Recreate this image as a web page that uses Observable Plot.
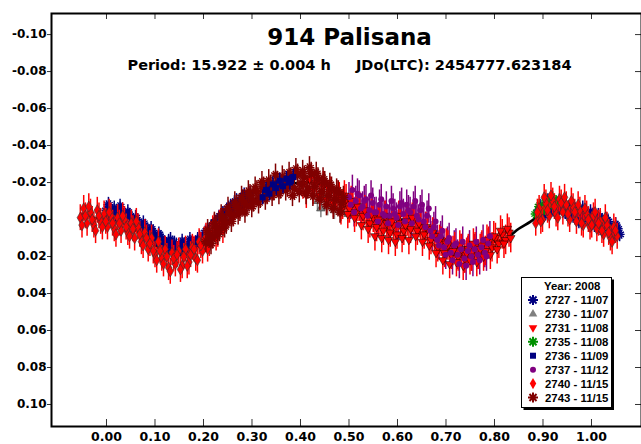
<!DOCTYPE html>
<html><head><meta charset="utf-8">
<script src="https://cdn.jsdelivr.net/npm/d3@7"></script>
<script src="https://cdn.jsdelivr.net/npm/@observablehq/plot@0.6"></script>
<style>
body{margin:0;background:#fff;}
#wrap{width:641px;height:444px;}
</style></head>
<body><div id="wrap"></div>
<script>
// ---------- texts ----------
const titleText = "914 Palisana";
const subtitleText = "Period: 15.922 \u00b1 0.004 h\u00a0\u00a0\u00a0\u00a0\u00a0JDo(LTC): 2454777.623184";
const legendTitle = "Year: 2008";
const seriesLabels = ["2727 - 11/07","2730 - 11/07","2731 - 11/08","2735 - 11/08","2736 - 11/09","2737 - 11/12","2740 - 11/15","2743 - 11/15"];

// ---------- ticks ----------
const xTicks = [0.00,0.10,0.20,0.30,0.40,0.50,0.60,0.70,0.80,0.90,1.00];
const xTickLabels = ["0.00","0.10","0.20","0.30","0.40","0.50","0.60","0.70","0.80","0.90","1.00"];
const yTicks = [-0.10,-0.08,-0.06,-0.04,-0.02,0.00,0.02,0.04,0.06,0.08,0.10];
const yTickLabels = ["-0.10","-0.08","-0.06","-0.04","-0.02","0.00","0.02","0.04","0.06","0.08","0.10"];

// ---------- data (phase, reduced magnitude) ----------
const p2727 = [0.000,0.008,0.016,0.024,0.032,0.040,0.048,0.056,0.064,0.072,0.080,0.088,0.096,0.104,0.112,0.120,0.128,0.136,0.144,0.152,0.160,0.168,0.176,0.184,0.192,0.200,0.208,0.216,0.224,0.232,0.240,0.248,0.256,0.264,0.272,0.280,0.288,0.296,
  0.890,0.898,0.906,0.914,0.922,0.930,0.938,0.946,0.954,0.962,0.970,0.978,0.986,0.994,1.002,1.010,1.018,1.026,1.034,1.042,1.050,1.058,
  0.004,0.012,0.020,0.028,0.036,0.044,0.052,0.060,0.068,0.076,0.084,0.092,0.100,0.108,0.116,0.124,0.132,0.140,0.148,0.156,0.164,0.172,0.180,0.188,0.196,0.204,0.212,0.220,0.228,0.236,0.244,0.252,0.260,0.268,0.276,0.284,0.292,
  0.894,0.902,0.910,0.918,0.926,0.934,0.942,0.950,0.958,0.966,0.974,0.982,0.990,0.998,1.006,1.014,1.022,1.030,1.038,1.046,1.054];
const m2727 = [-0.005,-0.002,-0.006,-0.003,-0.004,-0.001,-0.002,0.002,0.001,0.005,0.004,0.008,0.007,0.011,0.010,0.013,0.012,0.015,0.014,0.016,0.014,0.015,0.013,0.013,0.010,0.009,0.006,0.004,0.002,-0.001,-0.003,-0.005,-0.007,-0.009,-0.008,-0.012,-0.011,-0.014,
  -0.004,-0.001,-0.007,-0.004,-0.008,-0.005,-0.008,-0.004,-0.006,-0.002,-0.004,0.000,-0.003,0.001,-0.002,0.002,-0.001,0.004,0.001,0.006,0.003,0.008,
  -0.008,-0.004,-0.001,-0.007,-0.002,-0.004,0.001,-0.001,0.004,0.002,0.007,0.005,0.010,0.008,0.012,0.016,0.011,0.013,0.017,0.012,0.017,0.011,0.015,0.011,0.012,0.007,0.009,0.003,0.005,-0.002,0.001,-0.006,-0.004,-0.010,-0.006,-0.013,-0.009,
  -0.007,-0.003,-0.010,-0.006,-0.004,-0.010,-0.006,-0.003,-0.008,-0.005,0.001,-0.006,-0.001,-0.004,0.003,-0.002,0.006,0.000,0.004,0.009,0.005];

const p2730 = [0.435,0.442,0.449,0.456,0.463,0.470,0.477,0.484,0.491,0.498];
const m2730 = [-0.010,-0.006,-0.011,-0.007,-0.010,-0.005,-0.008,-0.004,-0.007,-0.003];

const p2731 = [0.480,0.487,0.494,0.501,0.508,0.515,0.522,0.529,0.536,0.543,0.550,0.557,0.564,0.571,0.578,0.585,0.592,0.599,0.606,0.613,0.620,0.627,0.634,0.641,0.648,0.655,0.662,0.669,0.676,0.683,0.690,0.697,0.704,0.711,0.718,0.725,0.732,0.739,0.746,0.753,0.760,0.767,0.774,0.781,0.788,0.795,0.802,0.809,0.816,0.823,0.830,
  0.4835,0.4905,0.4975,0.5045,0.5115,0.5185,0.5255,0.5325,0.5395,0.5465,0.5535,0.5605,0.5675,0.5745,0.5815,0.5885,0.5955,0.6025,0.6095,0.6165,0.6235,0.6305,0.6375,0.6445,0.6515,0.6585,0.6655,0.6725,0.6795,0.6865,0.6935,0.7005,0.7075,0.7145,0.7215,0.7285,0.7355,0.7425,0.7495,0.7565,0.7635,0.7705,0.7775,0.7845,0.7915,0.7985,0.8055,0.8125,0.8195,0.8265,0.8335,
  0.405,0.412,0.419,0.426,0.433,0.440,0.447,0.454,0.461,0.468,0.475];
const m2731 = [-0.012,-0.008,-0.011,-0.006,-0.009,-0.004,-0.007,-0.002,-0.004,0.002,-0.001,0.004,0.001,0.006,0.002,0.007,0.003,0.008,0.002,0.006,0.001,0.005,0.000,0.006,0.003,0.008,0.005,0.011,0.009,0.015,0.012,0.018,0.014,0.019,0.015,0.020,0.016,0.021,0.016,0.020,0.015,0.019,0.014,0.017,0.012,0.015,0.010,0.013,0.008,0.011,0.007,
  -0.005,-0.013,-0.003,-0.010,-0.001,-0.007,0.003,-0.005,0.005,-0.003,0.009,0.000,0.010,-0.002,0.011,0.001,0.012,-0.002,0.010,0.003,0.011,-0.001,0.009,0.002,0.012,0.004,0.014,0.007,0.018,0.011,0.022,0.013,0.024,0.017,0.023,0.014,0.025,0.018,0.022,0.013,0.023,0.016,0.020,0.011,0.019,0.009,0.016,0.006,0.013,0.005,0.010,
  -0.019,-0.014,-0.022,-0.016,-0.020,-0.013,-0.018,-0.011,-0.015,-0.009,-0.013];

const p2735 = [0.885,0.892,0.899,0.906,0.913,0.920,0.927];
const m2735 = [-0.003,-0.007,-0.005,-0.010,-0.008,-0.011,-0.009];

const p2736 = [0.322,0.329,0.336,0.343,0.350,0.357,0.364,0.371,0.378,0.385];
const m2736 = [-0.012,-0.016,-0.014,-0.019,-0.017,-0.021,-0.018,-0.022,-0.020,-0.023];

const p2737 = [0.500,0.507,0.514,0.521,0.528,0.535,0.542,0.549,0.556,0.563,0.570,0.577,0.584,0.591,0.598,0.605,0.612,0.619,0.626,0.633,0.640,0.647,0.654,0.661,0.668,0.675,0.682,0.689,0.696,0.703,0.710,0.717,0.724,0.731,0.738,0.745,0.752,0.759,0.766,0.773,0.780,0.787,
  0.5035,0.5105,0.5175,0.5245,0.5315,0.5385,0.5455,0.5525,0.5595,0.5665,0.5735,0.5805,0.5875,0.5945,0.6015,0.6085,0.6155,0.6225,0.6295,0.6365,0.6435,0.6505,0.6575,0.6645,0.6715,0.6785,0.6855,0.6925,0.6995,0.7065,0.7135,0.7205,0.7275,0.7345,0.7415,0.7485,0.7555,0.7625,0.7695,0.7765,0.7835,0.7905];
const m2737 = [-0.012,-0.016,-0.010,-0.013,-0.007,-0.011,-0.005,-0.009,-0.004,-0.008,-0.003,-0.007,-0.002,-0.006,-0.001,-0.007,-0.003,-0.008,-0.004,-0.007,-0.002,-0.005,0.001,-0.002,0.006,0.004,0.011,0.009,0.015,0.012,0.018,0.014,0.019,0.016,0.021,0.017,0.020,0.016,0.019,0.015,0.018,0.013,
  -0.008,-0.004,-0.014,-0.006,-0.010,-0.002,-0.013,-0.004,0.001,-0.011,-0.002,0.002,-0.010,-0.003,0.003,-0.009,0.001,-0.005,0.002,-0.010,0.000,-0.008,0.004,-0.006,0.009,0.001,0.014,0.006,0.019,0.010,0.022,0.013,0.024,0.012,0.025,0.014,0.023,0.012,0.022,0.011,0.020,0.009];

const p2740 = [-0.054,-0.047,-0.040,-0.033,-0.026,-0.019,-0.012,-0.005,0.002,0.009,0.016,0.023,0.030,0.037,0.044,0.051,0.058,0.065,0.072,0.079,0.086,0.093,0.100,0.107,0.114,0.121,0.128,0.135,0.142,0.149,0.156,0.163,0.170,0.177,0.184,0.191,0.198,0.205,0.212,0.219,0.226,0.233,0.240,
  0.885,0.892,0.899,0.906,0.913,0.920,0.927,0.934,0.941,0.948,0.955,0.962,0.969,0.976,0.983,0.990,0.997,1.004,1.011,1.018,1.025,1.032,1.039,1.046,1.053,
  -0.0505,-0.0435,-0.0365,-0.0295,-0.0225,-0.0155,-0.0085,-0.0015,0.0055,0.0125,0.0195,0.0265,0.0335,0.0405,0.0475,0.0545,0.0615,0.0685,0.0755,0.0825,0.0895,0.0965,0.1035,0.1105,0.1175,0.1245,0.1315,0.1385,0.1455,0.1525,0.1595,0.1665,0.1735,0.1805,0.1875,0.1945,0.2015,0.2085,0.2155,0.2225,0.2295,0.2365,
  0.8885,0.8955,0.9025,0.9095,0.9165,0.9235,0.9305,0.9375,0.9445,0.9515,0.9585,0.9655,0.9725,0.9795,0.9865,0.9935,1.0005,1.0075,1.0145,1.0215,1.0285,1.0355,1.0425,1.0495];
const m2740 = [-0.001,-0.006,0.002,-0.004,0.003,-0.005,0.001,-0.003,0.004,-0.002,0.005,-0.001,0.006,0.000,0.007,0.002,0.010,0.004,0.012,0.007,0.016,0.010,0.019,0.012,0.021,0.016,0.026,0.018,0.024,0.017,0.025,0.016,0.023,0.015,0.021,0.012,0.017,0.009,0.013,0.005,0.010,0.002,0.006,
  0.002,-0.006,0.000,-0.009,-0.002,-0.010,-0.003,-0.011,-0.004,-0.008,0.000,-0.007,0.001,-0.005,0.003,-0.003,0.004,-0.002,0.005,0.001,0.008,0.003,0.010,0.004,0.009,
  0.003,-0.002,-0.007,0.000,0.006,-0.002,0.004,0.001,-0.004,0.002,0.008,0.002,-0.002,0.004,0.009,0.005,0.001,0.008,0.014,0.010,0.013,0.017,0.022,0.017,0.024,0.020,0.028,0.021,0.019,0.027,0.020,0.025,0.019,0.016,0.022,0.014,0.011,0.016,0.008,0.004,0.008,0.001,
  -0.004,0.001,-0.012,-0.005,-0.013,-0.007,-0.001,-0.009,-0.012,-0.003,-0.010,-0.004,-0.008,0.002,-0.006,0.000,0.003,-0.004,0.002,0.006,-0.001,0.007,0.012,0.006];

const p2743 = [0.205,0.212,0.219,0.226,0.233,0.240,0.247,0.254,0.261,0.268,0.275,0.282,0.289,0.296,0.303,0.310,0.317,0.324,0.331,0.338,0.345,0.352,0.359,0.366,0.373,0.380,0.387,0.394,0.401,0.408,0.415,0.422,0.429,0.436,0.443,0.450,0.457,0.464,0.471,0.478,0.485,
  0.2085,0.2155,0.2225,0.2295,0.2365,0.2435,0.2505,0.2575,0.2645,0.2715,0.2785,0.2855,0.2925,0.2995,0.3065,0.3135,0.3205,0.3275,0.3345,0.3415,0.3485,0.3555,0.3625,0.3695,0.3765,0.3835,0.3905,0.3975,0.4045,0.4115,0.4185,0.4255,0.4325,0.4395,0.4465,0.4535,0.4605,0.4675,0.4745,0.4815,0.4885];
const m2743 = [0.012,0.008,0.010,0.004,0.006,0.000,0.002,-0.003,-0.002,-0.007,-0.005,-0.010,-0.008,-0.013,-0.010,-0.015,-0.012,-0.017,-0.014,-0.018,-0.016,-0.020,-0.017,-0.021,-0.018,-0.022,-0.017,-0.024,-0.019,-0.023,-0.017,-0.025,-0.018,-0.022,-0.015,-0.020,-0.013,-0.017,-0.011,-0.015,-0.009,
  0.006,0.013,0.002,0.008,-0.002,0.004,-0.006,0.001,-0.009,-0.003,-0.012,-0.004,-0.015,-0.007,-0.017,-0.009,-0.020,-0.011,-0.021,-0.013,-0.024,-0.014,-0.023,-0.016,-0.025,-0.013,-0.027,-0.015,-0.026,-0.014,-0.028,-0.013,-0.025,-0.011,-0.022,-0.008,-0.019,-0.006,-0.016,-0.004,-0.012];

// error bar half-lengths per series (legend order)
const seriesErrors = [0.004,0.005,0.008,0.004,0.004,0.008,0.007,0.006];

// Fourier fit curve
const fitPhase = [-0.050,-0.025,0.000,0.025,0.050,0.075,0.100,0.125,0.150,0.175,0.200,0.225,0.250,0.275,0.300,0.325,0.350,0.375,0.400,0.425,0.450,0.475,0.500,0.525,0.550,0.575,0.600,0.625,0.650,0.675,0.700,0.725,0.750,0.775,0.800,0.825,0.850,0.875,0.900,0.925,0.950,0.975,1.000,1.025,1.050];
const fitMag = [-0.003,-0.001,0.000,0.001,0.004,0.009,0.014,0.018,0.019,0.017,0.013,0.007,0.001,-0.005,-0.010,-0.014,-0.017,-0.019,-0.020,-0.020,-0.018,-0.014,-0.010,-0.006,-0.003,-0.001,0.000,0.000,0.002,0.006,0.011,0.015,0.016,0.015,0.012,0.010,0.005,0.001,-0.004,-0.006,-0.005,-0.002,0.000,0.001,0.004];

// ---------- build ----------
const phases = [p2727,p2730,p2731,p2735,p2736,p2737,p2740,p2743];
const mags = [m2727,m2730,m2731,m2735,m2736,m2737,m2740,m2743];
const series = seriesLabels.map((label, i) => d3.zip(phases[i], mags[i]).map(([phase, mag]) => ({label, phase, mag, err: seriesErrors[i]})));
const fit = d3.zip(fitPhase, fitMag).map(([phase, mag]) => ({phase, mag}));

const makeBurst = n => ({draw(ctx, size) {
  const r = Math.sqrt(size / Math.PI);
  for (let k = 0; k < n; k++) {
    const a = k * Math.PI / n, dx = r * Math.cos(a), dy = r * Math.sin(a);
    ctx.moveTo(-dx, -dy); ctx.lineTo(dx, dy);
  }
}});
const burst = makeBurst(6);
const burstLegend = makeBurst(4);

const styles = [
  {symbol: burst, r: 5, fill: "none", stroke: "#000080", strokeWidth: 1.4, bar: "#000080"},
  {symbol: "triangle", r: 3.2, fill: "#808080", stroke: "#333", strokeWidth: 0.6, bar: "#808080"},
  {symbol: "triangle", rotate: 180, r: 3.2, fill: "#ff0000", stroke: "#000", strokeWidth: 0.5, bar: "#ff0000"},
  {symbol: burst, r: 5, fill: "none", stroke: "#009000", strokeWidth: 1.4, bar: "#009000"},
  {symbol: "square", r: 3.4, fill: "#000080", stroke: "none", strokeWidth: 0, bar: "#000080"},
  {symbol: "circle", r: 3, fill: "#800080", stroke: "none", strokeWidth: 0, bar: "#800080"},
  {symbol: "diamond", r: 3.4, fill: "#ff0000", stroke: "#333", strokeWidth: 0.6, bar: "#ff0000"},
  {symbol: burst, r: 5, fill: "none", stroke: "#800000", strokeWidth: 1.4, bar: "#800000"}
];

const xLab = d => xTickLabels[xTicks.findIndex(t => Math.abs(t - d) < 1e-9)];
const yLab = d => yTickLabels[yTicks.findIndex(t => Math.abs(t - d) < 1e-9)];

const bars = i => Plot.ruleX(series[i], {x: "phase", y1: d => d.mag - d.err, y2: d => d.mag + d.err, stroke: styles[i].bar, strokeWidth: 1.5});
const dots = i => {
  const s = styles[i];
  const o = {x: "phase", y: "mag", symbol: s.symbol, r: s.r, fill: s.fill, stroke: s.stroke, strokeWidth: s.strokeWidth};
  if (s.rotate) o.rotate = s.rotate;
  return Plot.dot(series[i], o);
};

const marks = [
  Plot.line(fit, {x: "phase", y: "mag", curve: "catmull-rom", stroke: "black", strokeWidth: 2.6}),
  bars(0), dots(0),
  bars(1), dots(1),
  bars(5), bars(2), dots(2), dots(5),
  bars(3), dots(3),
  bars(6), dots(6),
  bars(7), dots(7),
  bars(4), dots(4),
  Plot.tickX(xTicks, {x: d => d, insetTop: 406, stroke: "#333"}),
  Plot.tickX(xTicks, {x: d => d, insetBottom: 407, stroke: "#333"}),
  Plot.tickY(yTicks, {y: d => d, insetLeft: 584, stroke: "#333"}),
  Plot.axisY(yTicks, {anchor: "left", tickSize: 4, tickPadding: 1, tickFormat: yLab, fontSize: 12, label: null, stroke: "#333"}),
  Plot.axisX(xTicks, {anchor: "bottom", tickSize: 0, tickPadding: 6, tickFormat: xLab, fontSize: 12.5, label: null}),
  Plot.frame({stroke: "black", strokeWidth: 2})
];

const chart = Plot.plot({
  width: 641, height: 444,
  marginLeft: 51, marginRight: 0, marginTop: 13, marginBottom: 18,
  x: {domain: [-0.1134, 1.1031], label: null},
  y: {domain: [-0.1114, 0.1119], reverse: true, label: null},
  style: {fontFamily: "'DejaVu Sans', sans-serif", fontWeight: "bold", color: "black", background: "white", overflow: "visible"},
  marks
});

const svg = d3.select(chart);
const addText = (sel, x, y, size, family, anchor, txt) => sel.append("text")
  .attr("x", x).attr("y", y).attr("fill", "black")
  .style("font-size", size + "px").style("font-family", family).style("font-weight", "bold").style("text-anchor", anchor)
  .text(txt);
const dv = "'DejaVu Sans', sans-serif";
const ar = "'Liberation Sans', Arial, sans-serif";
addText(svg, 349.5, 45, 23, dv, "middle", titleText);
addText(svg, 349.5, 70, 14.5, dv, "middle", subtitleText);

// legend
const lg = svg.append("g");
lg.append("rect").attr("x", 523.5).attr("y", 279.5).attr("width", 90.5).attr("height", 130.5).attr("fill", "black");
lg.append("rect").attr("x", 521.5).attr("y", 277.5).attr("width", 90).attr("height", 130).attr("fill", "white").attr("stroke", "black").attr("stroke-width", 1);
addText(lg, 544, 290, 11.4, ar, "start", legendTitle);
const symMap = {triangle: d3.symbolTriangle, square: d3.symbolSquare, circle: d3.symbolCircle, diamond: d3.symbolDiamond};
seriesLabels.forEach((label, i) => {
  const s = styles[i];
  const yb = 304 + i * 13.93;
  const isBurst = s.symbol === burst;
  const rr = isBurst ? 5 : s.r;
  const path = d3.symbol(isBurst ? burstLegend : symMap[s.symbol], rr * rr * Math.PI)();
  lg.append("path").attr("d", path)
    .attr("transform", `translate(533,${yb - 4})` + (s.rotate ? " rotate(180)" : ""))
    .attr("fill", s.fill).attr("stroke", isBurst ? s.stroke : "none").attr("stroke-width", isBurst ? 2 : 0);
  addText(lg, 545, yb, 11.4, ar, "start", label);
});

document.getElementById("wrap").appendChild(chart);
</script></body></html>
